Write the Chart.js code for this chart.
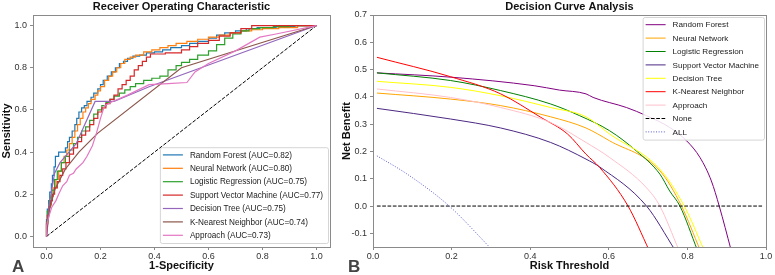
<!DOCTYPE html>
<html>
<head>
<meta charset="utf-8">
<script src="https://cdn.jsdelivr.net/npm/chart.js@4.4.1/dist/chart.umd.min.js"></script>
<style>
html, body { margin: 0; padding: 0; background: #fff; }
#wrap { position: relative; width: 775px; height: 275px; }
#roc { position: absolute; left: 0; top: 0; }
#dca { position: absolute; left: 340px; top: 0; }
</style>
</head>
<body>
<div id="wrap">
  <canvas id="roc" width="340" height="275"></canvas>
  <canvas id="dca" width="435" height="275"></canvas>
</div>
<script>
// ---- ROC panel data ----
const MODELS = ['Random Forest', 'Neural Network', 'Logistic Regression', 'Support Vector Machine', 'Decision Tree', 'K-Nearest Neighbor', 'Approach'];
const AUC = [0.82, 0.80, 0.75, 0.77, 0.75, 0.74, 0.73];
const ROC_TICKS = [0, 0.2, 0.4, 0.6, 0.8, 1.0];

const rfFpr = [0, 0.003, 0.008, 0.012, 0.018, 0.022, 0.028, 0.033, 0.045, 0.07, 0.078, 0.085, 0.095, 0.105, 0.112, 0.12, 0.13, 0.14, 0.15, 0.165, 0.175, 0.19, 0.2, 0.21, 0.225, 0.24, 0.255, 0.27, 0.285, 0.3, 0.32, 0.345, 0.37, 0.4, 0.43, 0.46, 0.5, 0.53, 0.56, 0.6, 0.63, 0.66, 0.7, 0.74, 0.78, 0.85, 0.92, 1];
const rfTpr = [0, 0.08, 0.13, 0.17, 0.21, 0.25, 0.29, 0.33, 0.38, 0.4, 0.42, 0.45, 0.47, 0.5, 0.53, 0.56, 0.59, 0.61, 0.62, 0.64, 0.66, 0.68, 0.7, 0.72, 0.74, 0.76, 0.78, 0.8, 0.82, 0.83, 0.845, 0.855, 0.86, 0.87, 0.875, 0.885, 0.895, 0.905, 0.915, 0.925, 0.94, 0.955, 0.965, 0.975, 0.985, 0.99, 0.995, 1];

const nnFpr = [0, 0.004, 0.01, 0.018, 0.025, 0.035, 0.045, 0.055, 0.065, 0.075, 0.085, 0.095, 0.105, 0.115, 0.125, 0.135, 0.145, 0.155, 0.165, 0.18, 0.19, 0.2, 0.215, 0.23, 0.245, 0.26, 0.275, 0.29, 0.31, 0.33, 0.36, 0.39, 0.42, 0.45, 0.48, 0.52, 0.56, 0.6, 0.64, 0.68, 0.72, 0.76, 0.8, 0.86, 0.93, 1];
const nnTpr = [0, 0.06, 0.11, 0.15, 0.19, 0.23, 0.27, 0.31, 0.35, 0.38, 0.41, 0.44, 0.47, 0.5, 0.53, 0.56, 0.59, 0.61, 0.63, 0.65, 0.67, 0.69, 0.71, 0.74, 0.76, 0.78, 0.8, 0.82, 0.84, 0.85, 0.86, 0.875, 0.885, 0.895, 0.905, 0.915, 0.925, 0.935, 0.945, 0.955, 0.965, 0.975, 0.98, 0.985, 0.99, 1];

const lrFpr = [0, 0.003, 0.01, 0.02, 0.03, 0.04, 0.055, 0.07, 0.085, 0.1, 0.115, 0.13, 0.145, 0.16, 0.175, 0.19, 0.205, 0.22, 0.235, 0.25, 0.27, 0.29, 0.31, 0.33, 0.36, 0.39, 0.42, 0.45, 0.48, 0.5, 0.53, 0.56, 0.6, 0.63, 0.66, 0.69, 0.72, 0.75, 0.79, 0.84, 0.9, 1];
const lrTpr = [0, 0.07, 0.12, 0.17, 0.22, 0.27, 0.31, 0.35, 0.38, 0.41, 0.44, 0.47, 0.5, 0.52, 0.55, 0.58, 0.6, 0.62, 0.635, 0.65, 0.665, 0.68, 0.695, 0.71, 0.725, 0.74, 0.75, 0.76, 0.79, 0.81, 0.825, 0.84, 0.86, 0.88, 0.91, 0.94, 0.96, 0.975, 0.985, 0.99, 0.995, 1];

const svmFpr = [0, 0.003, 0.008, 0.015, 0.022, 0.03, 0.04, 0.05, 0.06, 0.072, 0.085, 0.1, 0.115, 0.13, 0.145, 0.16, 0.175, 0.19, 0.205, 0.22, 0.235, 0.25, 0.265, 0.28, 0.295, 0.31, 0.325, 0.34, 0.355, 0.37, 0.385, 0.44, 0.5, 0.53, 0.56, 0.6, 0.64, 0.68, 0.72, 0.76, 0.78, 1];
const svmTpr = [0, 0.06, 0.1, 0.14, 0.17, 0.2, 0.23, 0.26, 0.29, 0.32, 0.35, 0.39, 0.42, 0.45, 0.48, 0.5, 0.53, 0.56, 0.59, 0.61, 0.63, 0.65, 0.67, 0.7, 0.72, 0.74, 0.76, 0.79, 0.81, 0.83, 0.85, 0.865, 0.87, 0.885, 0.9, 0.915, 0.93, 0.95, 0.965, 0.985, 1, 1];

const dtFpr = [0, 0.01, 0.03, 0.05, 0.11, 0.18, 0.25, 0.38, 1];
const dtTpr = [0, 0.15, 0.3, 0.35, 0.44, 0.64, 0.64, 0.71, 1];

const knnFpr = [0, 0.01, 0.03, 0.07, 0.12, 0.19, 0.5, 1];
const knnTpr = [0, 0.12, 0.22, 0.32, 0.4, 0.49, 0.8, 1];

const apFpr = [0, 0, 0.01, 0.02, 0.035, 0.045, 0.06, 0.075, 0.085, 0.1, 0.11, 0.135, 0.15, 0.17, 0.185, 0.2, 0.215, 0.245, 0.3, 0.38, 0.45, 0.52, 0.55, 0.6, 0.7, 0.79, 0.85, 1];
const apTpr = [0, 0.05, 0.1, 0.14, 0.17, 0.2, 0.24, 0.26, 0.29, 0.3, 0.32, 0.35, 0.38, 0.43, 0.49, 0.56, 0.62, 0.64, 0.67, 0.72, 0.725, 0.73, 0.78, 0.82, 0.88, 0.945, 0.96, 1];

const ROC_COLORS = ['#1f77b4', '#ff7f0e', '#2ca02c', '#d62728', '#9467bd', '#8c564b', '#e377c2'];

// ---- Decision curve panel data ----
const DCA_NAMES = ['Random Forest', 'Neural Network', 'Logistic Regression', 'Support Vector Machine', 'Decision Tree', 'K-Nearest Neighbor', 'Approach'];
const DCA_X_TICKS = [0, 0.2, 0.4, 0.6, 0.8, 1.0];
const DCA_Y_TICKS = [-0.1, 0, 0.1, 0.2, 0.3, 0.4, 0.5, 0.6, 0.7];

const dcaRfX = [0.01, 0.2, 0.41, 0.474, 0.542, 0.56, 0.645, 0.696, 0.755, 0.798, 0.832, 0.861, 0.881, 0.911];
const dcaRfY = [0.488, 0.472, 0.441, 0.425, 0.411, 0.398, 0.361, 0.331, 0.288, 0.239, 0.178, 0.092, 0, -0.16];
const dcaNnX = [0.01, 0.197, 0.325, 0.452, 0.542, 0.602, 0.73, 0.785, 0.832];
const dcaNnY = [0.414, 0.392, 0.368, 0.327, 0.286, 0.239, 0.129, 0, -0.16];
const dcaLrX = [0.01, 0.197, 0.325, 0.452, 0.526, 0.602, 0.67, 0.73, 0.755, 0.781, 0.825];
const dcaLrY = [0.488, 0.46, 0.423, 0.374, 0.331, 0.276, 0.202, 0.117, 0.055, 0, -0.16];
const dcaSvmX = [0.01, 0.197, 0.325, 0.452, 0.542, 0.577, 0.696, 0.768];
const dcaSvmY = [0.358, 0.319, 0.286, 0.233, 0.172, 0.143, 0, -0.16];
const dcaDtX = [0.01, 0.197, 0.325, 0.452, 0.542, 0.602, 0.73, 0.792, 0.842];
const dcaDtY = [0.457, 0.435, 0.404, 0.361, 0.327, 0.264, 0.135, 0, -0.16];
const dcaKnnX = [0.01, 0.197, 0.325, 0.427, 0.495, 0.542, 0.577, 0.649, 0.702];
const dcaKnnY = [0.545, 0.474, 0.411, 0.325, 0.264, 0.19, 0.141, 0, -0.16];
const dcaApX = [0.01, 0.197, 0.325, 0.452, 0.542, 0.602, 0.696, 0.73, 0.778];
const dcaApY = [0.429, 0.398, 0.361, 0.306, 0.233, 0.178, 0.067, 0, -0.16];
const dcaNoneX = [0.01, 0.99];
const dcaNoneY = [0, 0];
const dcaAllX = [0.01, 0.087, 0.194, 0.303];
const dcaAllY = [0.184, 0.117, 0, -0.16];

const DCA_COLORS = ['#800080', '#ffa500', '#008000', '#4b2882', '#ffff00', '#ff0000', '#ffc0cb'];

const FONT = '"Liberation Sans", Arial, Helvetica, sans-serif';
Chart.defaults.font.family = FONT;
Chart.defaults.color = '#333';

function pts(xs, ys) {
    return xs.map((x, i) => ({x: x, y: ys[i]}));
}

// titles, frame, inner legend, panel letter
const panelDecor = {
    id: 'panelDecor',
    afterDatasetsDraw(chart, args, o) {
        const ctx = chart.ctx;
        const a = chart.chartArea;
        ctx.save();

        // legend box
        const items = chart.data.datasets.filter(d => d.label);
        ctx.font = o.legendFont + 'px ' + FONT;
        const rowH = 13.4, handle = 20, padL = 3, gap = 7;
        const tw = Math.max(...items.map(d => ctx.measureText(d.label).width));
        const w = padL + handle + gap + tw + 5;
        const h = items.length * rowH + 2;
        const bx = a.right - 2 - w;
        const by = o.legendPos === 'lower right' ? a.bottom - 4 - h : a.top + 2;
        ctx.beginPath();
        ctx.roundRect(bx + 0.5, by + 0.5, w, h, 2);
        ctx.fillStyle = 'rgba(255,255,255,0.85)';
        ctx.fill();
        ctx.strokeStyle = '#d5d5d5';
        ctx.lineWidth = 1;
        ctx.stroke();
        items.forEach((d, i) => {
            const cy = by + 1 + rowH * (i + 0.5);
            ctx.beginPath();
            ctx.setLineDash(d.borderDash || []);
            ctx.strokeStyle = d.borderColor;
            ctx.lineWidth = d.borderWidth;
            ctx.moveTo(bx + padL, cy);
            ctx.lineTo(bx + padL + handle, cy);
            ctx.stroke();
            ctx.setLineDash([]);
            ctx.fillStyle = '#222';
            ctx.textBaseline = 'middle';
            ctx.textAlign = 'left';
            ctx.fillText(d.label, bx + padL + handle + gap, cy + 0.5);
        });

        // frame
        ctx.strokeStyle = '#8a8a8a';
        ctx.lineWidth = 1;
        ctx.strokeRect(Math.round(a.left) + 0.5, Math.round(a.top) + 0.5, Math.round(a.right - a.left), Math.round(a.bottom - a.top));

        // texts
        ctx.fillStyle = '#111';
        ctx.textAlign = 'center';
        ctx.textBaseline = 'middle';
        ctx.font = 'bold 11px ' + FONT;
        ctx.fillText(o.title, (a.left + a.right) / 2, 7);
        ctx.fillText(o.xTitle, (a.left + a.right) / 2, 266);
        ctx.save();
        ctx.translate(o.yTitleX, (a.top + a.bottom) / 2);
        ctx.rotate(-Math.PI / 2);
        ctx.fillText(o.yTitle, 0, 0);
        ctx.restore();
        ctx.fillStyle = '#444';
        ctx.font = 'bold 17px ' + FONT;
        ctx.textAlign = 'left';
        ctx.textBaseline = 'alphabetic';
        ctx.fillText(o.letter, o.letterX, 272);
        ctx.restore();
    }
};

function scales(xMin, xMax, xTicks, yMin, yMax, yTicks, yWidth) {
    const tickStyle = {
        callback: v => v.toFixed(1),
        font: {size: 9},
        color: '#333',
        maxRotation: 0,
        autoSkip: false
    };
    const grid = {drawOnChartArea: false, tickLength: 3, color: '#8a8a8a'};
    return {
        x: {
            type: 'linear', min: xMin, max: xMax,
            afterBuildTicks: s => { s.ticks = xTicks.map(v => ({value: v})); },
            afterFit: s => { s.height = 28; },
            ticks: Object.assign({padding: 1}, tickStyle),
            grid: grid,
            border: {display: false}
        },
        y: {
            type: 'linear', min: yMin, max: yMax,
            afterBuildTicks: s => { s.ticks = yTicks.map(v => ({value: v})); },
            afterFit: s => { s.width = yWidth; },
            ticks: Object.assign({padding: 3}, tickStyle),
            grid: grid,
            border: {display: false}
        }
    };
}

const rocSeries = [[rfFpr, rfTpr], [nnFpr, nnTpr], [lrFpr, lrTpr], [svmFpr, svmTpr], [dtFpr, dtTpr], [knnFpr, knnTpr], [apFpr, apTpr]];
const rocDatasets = MODELS.map((m, i) => ({
    label: m + ' (AUC=' + AUC[i].toFixed(2) + ')',
    data: pts(rocSeries[i][0], rocSeries[i][1]),
    borderColor: ROC_COLORS[i],
    borderWidth: 1.2,
    stepped: i < 4 ? 'after' : false,
    order: -i
}));
rocDatasets.push({
    label: '',
    data: pts([0, 1], [0, 1]),
    borderColor: '#000',
    borderWidth: 1,
    borderDash: [3.7, 1.6],
    order: 5
});
rocDatasets.forEach(d => { d.pointRadius = 0; d.fill = false; });

new Chart(document.getElementById('roc'), {
    type: 'line',
    data: {datasets: rocDatasets},
    options: {
        responsive: false,
        animation: false,
        events: [],
        layout: {padding: {top: 15, right: 10, left: 0, bottom: 0}},
        scales: scales(-0.05, 1.05, ROC_TICKS, -0.05, 1.05, ROC_TICKS, 33),
        plugins: {
            legend: {display: false},
            tooltip: {enabled: false},
            panelDecor: {
                title: 'Receiver Operating Characteristic',
                xTitle: '1-Specificity', yTitle: 'Sensitivity', yTitleX: 7,
                letter: 'A', letterX: 12,
                legendPos: 'lower right', legendFont: 8.2
            }
        }
    },
    plugins: [panelDecor]
});

const dcaSeries = [[dcaRfX, dcaRfY], [dcaNnX, dcaNnY], [dcaLrX, dcaLrY], [dcaSvmX, dcaSvmY], [dcaDtX, dcaDtY], [dcaKnnX, dcaKnnY], [dcaApX, dcaApY]];
const dcaDatasets = DCA_NAMES.map((m, i) => ({
    label: m,
    data: pts(dcaSeries[i][0], dcaSeries[i][1]),
    borderColor: DCA_COLORS[i],
    borderWidth: 1,
    cubicInterpolationMode: 'monotone',
    order: -i
}));
dcaDatasets.push({
    label: 'None',
    data: pts(dcaNoneX, dcaNoneY),
    borderColor: '#000',
    borderWidth: 1,
    borderDash: [3.7, 1.6],
    order: -7
});
dcaDatasets.push({
    label: 'ALL',
    data: pts(dcaAllX, dcaAllY),
    borderColor: '#5a5ad0',
    borderWidth: 1,
    borderDash: [1, 1.6],
    cubicInterpolationMode: 'monotone',
    order: -8
});
dcaDatasets.forEach(d => { d.pointRadius = 0; d.fill = false; });

new Chart(document.getElementById('dca'), {
    type: 'line',
    data: {datasets: dcaDatasets},
    options: {
        responsive: false,
        animation: false,
        events: [],
        layout: {padding: {top: 15, right: 9, left: 0, bottom: 0}},
        scales: scales(0, 1, DCA_X_TICKS, -0.15, 0.7, DCA_Y_TICKS, 33),
        plugins: {
            legend: {display: false},
            tooltip: {enabled: false},
            panelDecor: {
                title: 'Decision Curve Analysis',
                xTitle: 'Risk Threshold', yTitle: 'Net Benefit', yTitleX: 7,
                letter: 'B', letterX: 8,
                legendPos: 'upper right', legendFont: 8.1
            }
        }
    },
    plugins: [panelDecor]
});
</script>
</body>
</html>
